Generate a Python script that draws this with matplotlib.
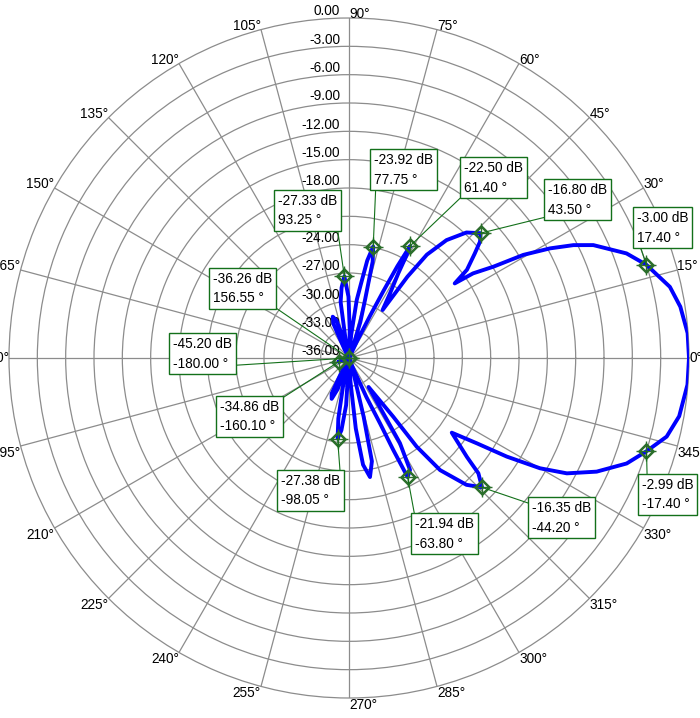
import numpy as np
import matplotlib
matplotlib.use("Agg")
import matplotlib.pyplot as plt

plt.rcParams['font.family'] = ['Liberation Sans', 'DejaVu Sans']

# ---- pattern data (angle in degrees, gain in dB) ----
angles_deg = [
    -180.0, -172.0, -165.0, -160.1, -155.0, -148.0, -140.0, -132.0, -125.0,
    -120.0, -116.0, -113.0, -110.0, -107.0, -104.5, -102.0, -100.0, -98.05,
    -96.0, -93.5, -91.0, -89.0, -86.5, -84.5, -82.5, -80.0, -77.5, -76.0,
    -74.0, -71.5, -68.5, -66.0, -64.6, -64.3, -63.8, -61.4, -59.1, -58.2,
    -56.0, -53.0, -52.65, -50.9, -47.2, -44.2, -41.7, -40.0, -36.0, -33.7,
    -32.0, -30.0, -27.9, -24.65, -20.8, -17.4, -13.9, -10.0, -4.5,
    0.0, 4.2, 8.8, 12.5, 17.4, 20.65, 24.8, 26.7, 28.6, 30.6, 32.3, 34.3,
    35.2, 36.8, 39.7, 41.6, 43.5, 46.9, 50.4, 53.0, 54.3, 55.0, 57.6, 59.8,
    60.75, 61.4, 62.2, 62.8, 63.5, 64.5, 66.5, 70.0, 72.5, 74.6, 76.2,
    77.75, 79.4, 80.8, 82.4, 84.5, 86.5, 88.5, 90.5, 93.25, 96.0, 98.5,
    100.5, 102.5, 105.5, 108.5, 111.5, 114.5, 117.5, 121.0, 130.0, 140.0,
    148.0, 156.55, 165.0, 172.0, 180.0,
]
gain_db = [
    -45.2, -41.0, -36.5, -34.86, -37.0, -41.0, -38.5, -37.0, -38.0,
    -35.0, -31.8, -31.3, -32.5, -36.0, -40.0, -33.0, -29.5, -27.38,
    -28.3, -31.0, -36.0, -40.0, -33.5, -28.5, -24.6, -23.2, -24.8, -29.6,
    -34.0, -38.5, -35.0, -31.5, -28.3, -25.2, -21.94, -22.5, -25.5, -29.1,
    -32.3, -28.2, -24.2, -20.7, -17.7, -16.35, -17.65, -19.7, -22.55, -19.7,
    -16.3, -12.65, -9.9, -7.15, -4.55, -2.99, -1.35, -0.5, -0.05,
    0.0, -0.05, -0.5, -1.2, -3.0, -4.6, -7.5, -9.4, -11.75, -14.55, -17.9, -20.1,
    -22.3, -20.4, -18.7, -17.45, -16.8, -17.8, -19.8, -22.3, -25.4, -29.8, -27.9, -25.6,
    -23.5, -22.5, -25.0, -28.0, -31.0, -34.0, -38.0, -35.0, -32.0, -29.6, -25.5,
    -23.92, -25.5, -28.0, -29.8, -33.5, -39.0, -33.0, -29.5, -27.33, -28.5, -30.0,
    -34.0, -40.0, -34.0, -31.8, -31.3, -32.0, -35.0, -40.0, -37.5, -40.0,
    -38.0, -36.26, -40.0, -43.0, -45.2,
]

# ---- marker readouts ----
marker_deg = [17.40, 43.50, 61.40, 77.75, 93.25, 156.55, -180.00, -160.10,
              -98.05, -63.80, -44.20, -17.40]
marker_db = [-3.00, -16.80, -22.50, -23.92, -27.33, -36.26, -45.20, -34.86,
             -27.38, -21.94, -16.35, -2.99]

ring_db = [0, -3, -6, -9, -12, -15, -18, -21, -24, -27, -30, -33, -36]
# the -21.00 label is hidden behind a readout box in the reference
ring_labels_shown = [0, -3, -6, -9, -12, -15, -18, -24, -27, -30, -33, -36]
angle_ticks = list(range(0, 360, 15))

# ---- layout / style ----
W, H = 700, 718
CX, CY, RAD = 349, 358, 340          # centre & radius in pixels (from top)
R_MIN, R_MAX = -36.0, 0.0
GRID = '#8c8c8c'
GREEN = '#13701a'
MGREEN = '#2b6e2b'
FS = 9.8

# box top-left corners (pixels from top-left), and connector anchor on box
box_pos = [(633, 208), (544, 180), (460, 158), (370, 150), (274, 191),
           (209, 269), (169, 334), (216, 397), (277, 471), (411, 514),
           (528, 498), (638, 475)]
box_rel = [(0.05, 0), (0, 0), (0, 0), (0.03, 0), (1, 0), (1, 0),
           (1, 0.15), (1, 1), (1, 1), (0, 1), (0, 0.9), (0.1, 1)]

fig = plt.figure(figsize=(W / 100, H / 100), dpi=100)
ax = fig.add_axes([(CX - RAD) / W, (H - CY - RAD) / H, 2 * RAD / W, 2 * RAD / H],
                  projection='polar')
ax.set_theta_zero_location('E')
ax.set_theta_direction(1)
ax.set_ylim(R_MIN, R_MAX)
ax.set_xticks(np.deg2rad(angle_ticks))
ax.set_xticklabels([])
ax.set_yticks(ring_db[1:-1])
ax.set_yticklabels([])
ax.tick_params(length=0)
ax.grid(True, color=GRID, lw=0.9)
ax.spines['polar'].set_color(GRID)
ax.spines['polar'].set_linewidth(0.9)

# angle labels
for d in angle_ticks:
    t = np.deg2rad(d)
    c, s = np.cos(t), np.sin(t)
    ha = 'left' if c >= -1e-9 else 'right'
    if s > 1e-6:
        va = 'baseline'
    elif s < -1e-6:
        va = 'top'
    else:
        va = 'center'
    ax.text(t, R_MAX, f"{d}°", ha=ha, va=va, fontsize=FS, clip_on=False)

# radial labels along 90°
for r in ring_labels_shown:
    ax.annotate(f"{r:.2f}", xy=(np.pi / 2, r), xytext=(-6.5, 4.8),
                textcoords='offset points', ha='right', va='center',
                fontsize=FS, zorder=2)

# pattern curve
theta = np.deg2rad(angles_deg)
rr = np.clip(gain_db, R_MIN, R_MAX)
ax.plot(theta, rr, color='#0000ff', lw=2.8, zorder=3, solid_joinstyle='round')

# markers
mt = np.deg2rad(marker_deg)
mr = np.clip(marker_db, R_MIN, R_MAX)
ax.plot(mt, mr, '+', color=MGREEN, ms=15, mew=1.0, zorder=4, clip_on=False)
ax.plot(mt, mr, 'D', mfc='none', mec=MGREEN, ms=7, mew=1.8, zorder=4, clip_on=False)

# readout boxes
for t, r, db, dg, (bx, by), rel in zip(mt, mr, marker_db, marker_deg, box_pos, box_rel):
    ax.annotate(f"{db:.2f} dB\n{dg:.2f} °", xy=(t, r),
                xytext=(bx + 4, H - by - 3), textcoords='figure pixels',
                ha='left', va='top', fontsize=FS, linespacing=1.5,
                bbox=dict(boxstyle='square,pad=0.26', fc='white', ec=GREEN, lw=1.0),
                arrowprops=dict(arrowstyle='-', color=GREEN, lw=0.8,
                                shrinkA=0, shrinkB=0, relpos=rel),
                zorder=5, annotation_clip=False)

fig.savefig('out.png', dpi=100, facecolor='white')
